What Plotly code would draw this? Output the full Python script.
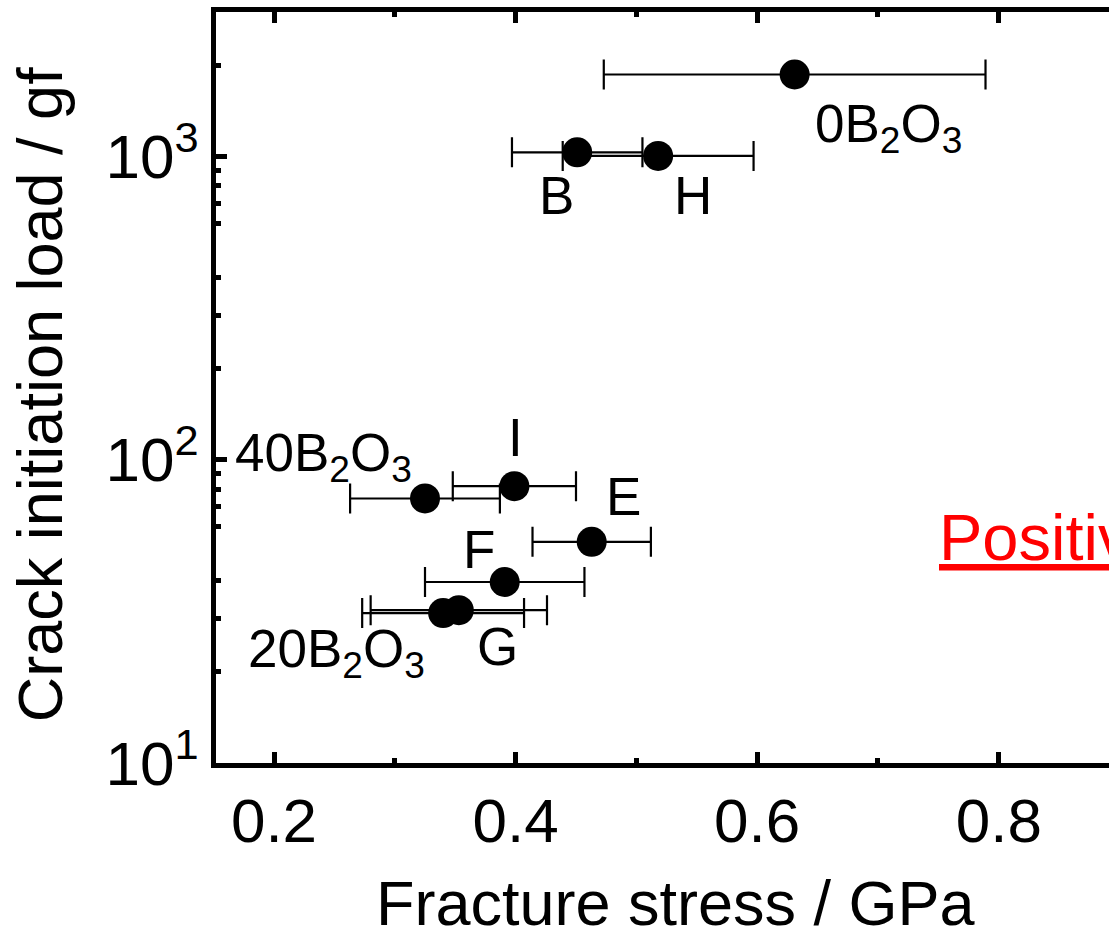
import math
import plotly.graph_objects as go

# ---------------- data ----------------
labels = ["0B<sub>2</sub>O<sub>3</sub>", "B", "H", "40B<sub>2</sub>O<sub>3</sub>", "I", "E", "F",
          "20B<sub>2</sub>O<sub>3</sub>", "G"]
stress = [0.631, 0.451, 0.518, 0.325, 0.399, 0.463, 0.391, 0.340, 0.353]        # GPa
stress_err = [0.158, 0.054, 0.079, 0.062, 0.051, 0.049, 0.066, 0.067, 0.073]   # GPa
load = [1866, 1033, 1005, 74.5, 81.8, 53.6, 39.5, 31.2, 31.9]                  # gf

x_tickvals = [0.2, 0.4, 0.6, 0.8]
x_ticktext = ["0.2", "0.4", "0.6", "0.8"]
x_minor = [0.3, 0.5, 0.7]
y_tickvals = [10, 100, 1000]
y_ticktext = ["10<sup>1</sup>", "10<sup>2</sup>", "10<sup>3</sup>"]
y_mid_ticks = [50, 500]
y_minor = [20, 30, 40, 60, 70, 80, 90, 200, 300, 400, 600, 700, 800, 900, 2000]
right_tickvals = [50, 100, 500, 1000]

# label placement (pixel offsets from the point), styling only
label_style = [
    ("left", 18, -53),
    ("center", -21, -43),
    ("center", 35, -40),
    ("right", -11, 42),
    ("center", 1, 49),
    ("center", 32, 45),
    ("center", -26, 33),
    ("right", -16, -39),
    ("center", 39, -36),
]

FONT = "Liberation Sans, Arial, sans-serif"
YRANGE = [0.9995, 3.4771]

fig = go.Figure()
fig.add_trace(go.Scatter(
    x=stress, y=load, mode="markers",
    marker=dict(size=30, color="black", line=dict(width=0)),
    error_x=dict(type="data", array=stress_err, visible=True, color="black",
                 thickness=2.2, width=15),
    showlegend=False, hoverinfo="skip",
))

annotations = []
for txt, xv, yv, (xa, dx, dy) in zip(labels, stress, load, label_style):
    annotations.append(dict(
        x=xv, y=math.log10(yv), xref="x", yref="y", text=txt, showarrow=False,
        xanchor=xa, yanchor="middle", xshift=dx, yshift=dy,
        font=dict(family=FONT, size=53, color="black"),
    ))

# axis titles
annotations.append(dict(
    x=0.5151, y=-0.1864, xref="paper", yref="paper", text="Fracture stress / GPa",
    showarrow=False, xanchor="center", yanchor="middle",
    font=dict(family=FONT, size=63, color="black")))
annotations.append(dict(
    x=-0.1969, y=0.49, xref="paper", yref="paper", text="Crack initiation load / gf",
    showarrow=False, xanchor="center", yanchor="middle", textangle=-90,
    font=dict(family=FONT, size=63, color="black")))
# red note (cut off at the right edge in the original)
annotations.append(dict(
    x=0.8074, y=0.3005, xref="paper", yref="paper",
    text="<u>Positive</u>", showarrow=False, xanchor="left", yanchor="middle",
    font=dict(family="Liberation Sans Narrow, Liberation Sans, sans-serif", size=65, color="#FF0000")))

fig.update_layout(
    width=1109, height=930,
    margin=dict(l=216, r=0, t=12, b=167, pad=0),
    paper_bgcolor="white", plot_bgcolor="white",
    showlegend=False,
    font=dict(family=FONT, size=62, color="black"),
    annotations=annotations,
    xaxis=dict(
        range=[0.15199, 0.89123], showgrid=False, zeroline=False,
        showline=True, linewidth=5, linecolor="black", mirror="ticks",
        ticks="inside", ticklen=11, tickwidth=5, tickcolor="black",
        tickmode="array", tickvals=x_tickvals, ticktext=x_ticktext,
        tickfont=dict(family=FONT, size=62, color="black"),
        minor=dict(tickmode="array", tickvals=x_minor, ticks="inside", ticklen=5,
                   tickwidth=5, tickcolor="black", showgrid=False),
    ),
    yaxis=dict(
        type="log", range=YRANGE, showgrid=False, zeroline=False,
        showline=True, linewidth=5, linecolor="black", mirror=False,
        ticks="inside", ticklen=11, tickwidth=5, tickcolor="black",
        tickmode="array", tickvals=y_tickvals, ticktext=y_ticktext,
        tickfont=dict(family=FONT, size=62, color="black"),
        minor=dict(tickmode="array", tickvals=y_minor, ticks="inside", ticklen=5,
                   tickwidth=5, tickcolor="black", showgrid=False),
    ),
    yaxis2=dict(
        type="log", range=YRANGE, overlaying="y", anchor="x", side="right",
        showgrid=False, zeroline=False, showline=False,
        ticks="inside", ticklen=4, tickwidth=5, tickcolor="black",
        tickmode="array", tickvals=right_tickvals, showticklabels=False,
    ),
    yaxis3=dict(
        type="log", range=YRANGE, overlaying="y", anchor="x", side="left",
        showgrid=False, zeroline=False, showline=False,
        ticks="inside", ticklen=13.5, tickwidth=5, tickcolor="black",
        tickmode="array", tickvals=y_mid_ticks, showticklabels=False,
    ),
)

fig.write_html("out.html")
